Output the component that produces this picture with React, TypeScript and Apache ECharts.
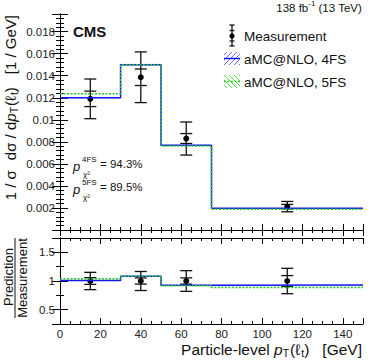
import React, { useEffect, useRef } from "react";
import * as echarts from "echarts";

// ---- data ----
const binEdges = [0, 30, 50, 75, 150];
const binCenters = [15, 40, 62.5, 112.5];
const measVals = [0.0119, 0.01386, 0.0083, 0.00212];
const measTotErr = [0.0018, 0.0023, 0.0015, 0.00047];
const measStatErr = [0.0007, 0.00075, 0.00045, 0.0002];
const pred4FS = [0.012, 0.01499, 0.0077, 0.00197];
const pred5FS = [0.01236, 0.01499, 0.00763, 0.00188];
const pred4FSUnc = [0.006, 0.006, 0.006, 0.006];
const pval4FS = "94.3%";
const pval5FS = "89.5%";
const xTicks = [0, 20, 40, 60, 80, 100, 120, 140];

const FONT = "'Liberation Sans', Arial, Helvetica, sans-serif";
const BLUE = "#1414f0";
const GREEN = "#22cc22";
const INK = "#111";

function stepData(vals: number[]) {
  const d: number[][] = vals.map((v, i) => [binEdges[i], v]);
  d.push([binEdges[binEdges.length - 1], vals[vals.length - 1]]);
  return d;
}

type Seg = { t: string; s: number; it?: boolean; dy?: number; gap?: number };

let measureCtx: CanvasRenderingContext2D | null = null;
function measure(text: string, size: number, italic?: boolean) {
  if (!measureCtx) measureCtx = document.createElement("canvas").getContext("2d");
  if (!measureCtx) return text.length * size * 0.55;
  measureCtx.font = `${italic ? "italic " : ""}${size}px ${FONT}`;
  return measureCtx.measureText(text).width;
}

function segLabel(x: number, y: number, segs: Seg[], alignRight: boolean, rotation = 0) {
  let cursor = 0;
  const items: any[] = [];
  segs.forEach((sg) => {
    cursor += sg.gap || 0;
    items.push({ sg, pos: cursor });
    cursor += measure(sg.t, sg.s, sg.it);
  });
  const off = alignRight ? -cursor : 0;
  return {
    type: "group",
    x,
    y,
    rotation,
    children: items.map(({ sg, pos }) => ({
      type: "text",
      x: pos + off,
      y: sg.dy || 0,
      style: {
        text: sg.t,
        fontFamily: FONT,
        fontSize: sg.s,
        fontStyle: sg.it ? "italic" : "normal",
        fill: INK,
        align: "left",
        verticalAlign: "middle",
      },
    })),
  };
}

export default function App() {
  const ref = useRef<HTMLDivElement>(null);
  useEffect(() => {
    if (!ref.current) return;
    const chart = echarts.init(ref.current, null, { renderer: "svg" });

    const ratio4 = pred4FS.map((v, i) => v / measVals[i]);
    const ratio5 = pred5FS.map((v, i) => v / measVals[i]);
    const ratioTot = measTotErr.map((e, i) => e / measVals[i]);
    const ratioStat = measStatErr.map((e, i) => e / measVals[i]);

    const errData = binCenters.map((x, i) => [x, measVals[i], measTotErr[i], measStatErr[i]]);
    const ratioErrData = binCenters.map((x, i) => [x, 1, ratioTot[i], ratioStat[i]]);

    const errRender = (params: any, api: any) => {
      const x = api.value(0);
      const y = api.value(1);
      const tot = api.value(2);
      const st = api.value(3);
      const c = api.coord([x, y]);
      const t1 = api.coord([x, y + tot]);
      const t0 = api.coord([x, y - tot]);
      const s1 = api.coord([x, y + st]);
      const s0 = api.coord([x, y - st]);
      const hw = 6;
      const st_ = { stroke: INK, lineWidth: 1.3 };
      const ln = (x1: number, y1: number, x2: number, y2: number) => ({
        type: "line",
        shape: { x1, y1, x2, y2 },
        style: st_,
      });
      return {
        type: "group",
        children: [
          ln(c[0], t0[1], c[0], t1[1]),
          ln(c[0] - hw, t0[1], c[0] + hw, t0[1]),
          ln(c[0] - hw, t1[1], c[0] + hw, t1[1]),
          ln(c[0] - hw, s0[1], c[0] + hw, s0[1]),
          ln(c[0] - hw, s1[1], c[0] + hw, s1[1]),
          { type: "circle", shape: { cx: c[0], cy: c[1], r: 3 }, style: { fill: "#000" } },
        ],
      };
    };

    const bandRender = (vals: number[], unc: number[], color: string) => (params: any, api: any) => {
      const i = params.dataIndex;
      const p1 = api.coord([binEdges[i], vals[i] * (1 + unc[i])]);
      const p2 = api.coord([binEdges[i + 1], vals[i] * (1 - unc[i])]);
      return {
        type: "rect",
        shape: { x: p1[0], y: p1[1], width: p2[0] - p1[0], height: p2[1] - p1[1] },
        style: { fill: color },
      };
    };

    const axisCommon = {
      axisLine: { lineStyle: { color: "#000", width: 1 } },
      splitLine: { show: false },
    };

    const xAxisBase = (gridIndex: number, position: string, showLabels: boolean, tickLen: number) => ({
      type: "value",
      gridIndex,
      position,
      min: 0,
      max: 150,
      interval: 20,
      ...axisCommon,
      axisTick: { show: true, inside: true, length: tickLen, lineStyle: { color: "#000" } },
      minorTick: { show: true, splitNumber: 4, length: tickLen / 2, lineStyle: { color: "#000" } },
      axisLabel: {
        show: showLabels,
        showMaxLabel: false,
        color: "#222",
        fontFamily: FONT,
        fontSize: 11.5,
        margin: 4,
        formatter: (v: number) => (xTicks.indexOf(v) >= 0 ? String(v) : ""),
      },
    });

    const yTopBase = (position: string, showLabels: boolean) => ({
      type: "value",
      gridIndex: 0,
      position,
      min: 0,
      max: 0.0196,
      interval: 0.002,
      ...axisCommon,
      axisTick: { show: true, inside: true, length: 8, lineStyle: { color: "#000" } },
      minorTick: { show: true, splitNumber: 5, length: 4, lineStyle: { color: "#000" } },
      axisLabel: {
        show: showLabels,
        showMinLabel: false,
        showMaxLabel: false,
        color: "#222",
        fontFamily: FONT,
        fontSize: 11.5,
        margin: 5,
        formatter: (v: number) => String(parseFloat(v.toFixed(4))),
      },
    });

    const yBotBase = (position: string, showLabels: boolean) => ({
      type: "value",
      gridIndex: 1,
      position,
      min: 0.25,
      max: 1.75,
      splitNumber: 3,
      ...axisCommon,
      axisTick: { show: true, inside: true, length: 8, lineStyle: { color: "#000" } },
      minorTick: { show: true, splitNumber: 2, length: 4, lineStyle: { color: "#000" } },
      axisLabel: {
        show: showLabels,
        showMinLabel: false,
        showMaxLabel: false,
        color: "#222",
        fontFamily: FONT,
        fontSize: 11.5,
        margin: 5,
      },
    });

    const hatch = (x0: number, y0: number, w: number, h: number, dir: number, color: string) => {
      const out: any[] = [];
      const step = 5;
      if (dir > 0) {
        for (let c = 3; c < w + h; c += step) {
          const u0 = Math.max(0, c - h);
          const u1 = Math.min(w, c);
          if (u1 <= u0) continue;
          out.push({
            type: "line",
            shape: { x1: x0 + u0, y1: y0 + (c - u0), x2: x0 + u1, y2: y0 + (c - u1) },
            style: { stroke: color, lineWidth: 1 },
          });
        }
      } else {
        for (let c = -h + 3; c < w; c += step) {
          const u0 = Math.max(0, c);
          const u1 = Math.min(w, h + c);
          if (u1 <= u0) continue;
          out.push({
            type: "line",
            shape: { x1: x0 + u0, y1: y0 + (u0 - c), x2: x0 + u1, y2: y0 + (u1 - c) },
            style: { stroke: color, lineWidth: 1 },
          });
        }
      }
      return out;
    };

    const txt = (x: number, y: number, text: string, extra: any = {}) => ({
      type: "text",
      x,
      y,
      style: {
        text,
        fontFamily: FONT,
        fontSize: 13.5,
        fill: INK,
        verticalAlign: "middle",
        ...extra,
      },
    });

    const capLine = (x1: number, y1: number, x2: number, y2: number) => ({
      type: "line",
      shape: { x1, y1, x2, y2 },
      style: { stroke: INK, lineWidth: 1.3 },
    });

    const graphics: any[] = [
      segLabel(362, 7.5, [
        { t: "138 fb", s: 11.5 },
        { t: "-1", s: 8, dy: -4 },
        { t: " (13 TeV)", s: 11.5 },
      ], true),
      txt(73, 31, "CMS", { fontWeight: "bold", fontSize: 15 }),
      // legend
      txt(244, 36, "Measurement"),
      txt(244, 59, "aMC@NLO, 4FS"),
      txt(244, 82, "aMC@NLO, 5FS"),
      capLine(232, 25, 232, 46),
      capLine(229.5, 25, 234.5, 25),
      capLine(229.5, 46, 234.5, 46),
      capLine(229.5, 30.5, 234.5, 30.5),
      capLine(229.5, 41, 234.5, 41),
      { type: "circle", shape: { cx: 232, cy: 36, r: 2.6 }, style: { fill: "#000" } },
      ...hatch(224, 52, 16, 13, 1, "#6f6fff"),
      { type: "line", shape: { x1: 224, y1: 58.5, x2: 240, y2: 58.5 }, style: { stroke: BLUE, lineWidth: 1.5 } },
      ...hatch(224, 75, 16, 13, -1, "#55dd55"),
      { type: "line", shape: { x1: 224, y1: 81.5, x2: 240, y2: 81.5 }, style: { stroke: GREEN, lineWidth: 1.5, lineDash: [2, 1.5] } },
      // p-values
      txt(73, 166, "p", { fontStyle: "italic", fontSize: 13 }),
      txt(82, 159, "4FS", { fontSize: 8 }),
      txt(83, 174, "χ²", { fontSize: 8 }),
      txt(100, 164, "= " + pval4FS, { fontSize: 11.5 }),
      txt(73, 189, "p", { fontStyle: "italic", fontSize: 13 }),
      txt(82, 182, "5FS", { fontSize: 8 }),
      txt(83, 197, "χ²", { fontSize: 8 }),
      txt(100, 187, "= " + pval5FS, { fontSize: 11.5 }),
      // x axis title
      segLabel(362, 349, [
        { t: "Particle-level ", s: 15.5 },
        { t: "p", s: 15.5, it: true },
        { t: "T", s: 10.5, dy: 4 },
        { t: "(ℓ", s: 15.5, gap: 1 },
        { t: "t", s: 10.5, dy: 4, gap: 1 },
        { t: ")", s: 15.5 },
        { t: "[GeV]", s: 15.5, gap: 13 },
      ], true),
      // y axis title (top panel), rotated
      segLabel(10, 15, [
        { t: "1 / σ", s: 15 },
        { t: "dσ / d", s: 15, gap: 10 },
        { t: "p", s: 15, it: true },
        { t: "T", s: 10.5, dy: 4 },
        { t: "(ℓ", s: 15, gap: 1 },
        { t: "t", s: 10.5, dy: 4, gap: 1 },
        { t: ")", s: 15 },
        { t: "[1 / GeV]", s: 15, gap: 13 },
      ], true, Math.PI / 2),
      // ratio y title
      {
        type: "text",
        x: 8,
        y: 277,
        rotation: Math.PI / 2,
        style: { text: "Prediction", align: "center", verticalAlign: "middle", fontFamily: FONT, fontSize: 13, fill: INK },
      },
      {
        type: "text",
        x: 22,
        y: 278,
        rotation: Math.PI / 2,
        style: { text: "Measurement", align: "center", verticalAlign: "middle", fontFamily: FONT, fontSize: 13, fill: INK },
      },
      { type: "line", shape: { x1: 15, y1: 238, x2: 15, y2: 318 }, style: { stroke: INK, lineWidth: 1 } },
    ];

    const option: any = {
      animation: false,
      backgroundColor: "#fff",
      grid: [
        { left: 60, top: 14, width: 303, height: 216 },
        { left: 60, top: 238, width: 303, height: 86 },
      ],
      xAxis: [
        xAxisBase(0, "bottom", false, 6),
        xAxisBase(0, "top", false, 6),
        xAxisBase(1, "bottom", true, 6),
        xAxisBase(1, "top", false, 6),
      ],
      yAxis: [yTopBase("left", true), yTopBase("right", false), yBotBase("left", true), yBotBase("right", false)],
      series: [
        {
          type: "custom",
          name: "band4",
          xAxisIndex: 0,
          yAxisIndex: 0,
          renderItem: bandRender(pred4FS, pred4FSUnc, "rgba(150,170,255,0.4)"),
          data: pred4FS.map((v, i) => [binCenters[i], v]),
          silent: true,
        },
        {
          type: "line",
          name: "aMC@NLO, 4FS",
          xAxisIndex: 0,
          yAxisIndex: 0,
          step: "end",
          symbol: "none",
          data: stepData(pred4FS),
          lineStyle: { color: BLUE, width: 1.5 },
        },
        {
          type: "line",
          name: "aMC@NLO, 5FS",
          xAxisIndex: 0,
          yAxisIndex: 0,
          step: "end",
          symbol: "none",
          data: stepData(pred5FS),
          lineStyle: { color: GREEN, width: 1.5, type: [2, 1.5] },
        },
        {
          type: "custom",
          name: "Measurement",
          xAxisIndex: 0,
          yAxisIndex: 0,
          renderItem: errRender,
          data: errData,
        },
        {
          type: "line",
          name: "ratio 4FS",
          xAxisIndex: 2,
          yAxisIndex: 2,
          step: "end",
          symbol: "none",
          data: stepData(ratio4),
          lineStyle: { color: BLUE, width: 1.5 },
        },
        {
          type: "line",
          name: "ratio 5FS",
          xAxisIndex: 2,
          yAxisIndex: 2,
          step: "end",
          symbol: "none",
          data: stepData(ratio5),
          lineStyle: { color: GREEN, width: 1.5, type: [2, 1.5] },
        },
        {
          type: "custom",
          name: "ratio meas",
          xAxisIndex: 2,
          yAxisIndex: 2,
          renderItem: errRender,
          data: ratioErrData,
        },
      ],
      graphic: graphics,
    };
    chart.setOption(option);
    return () => chart.dispose();
  }, []);
  return <div ref={ref} style={{ position: "absolute", left: 0, top: 0, width: 374, height: 363 }} />;
}
